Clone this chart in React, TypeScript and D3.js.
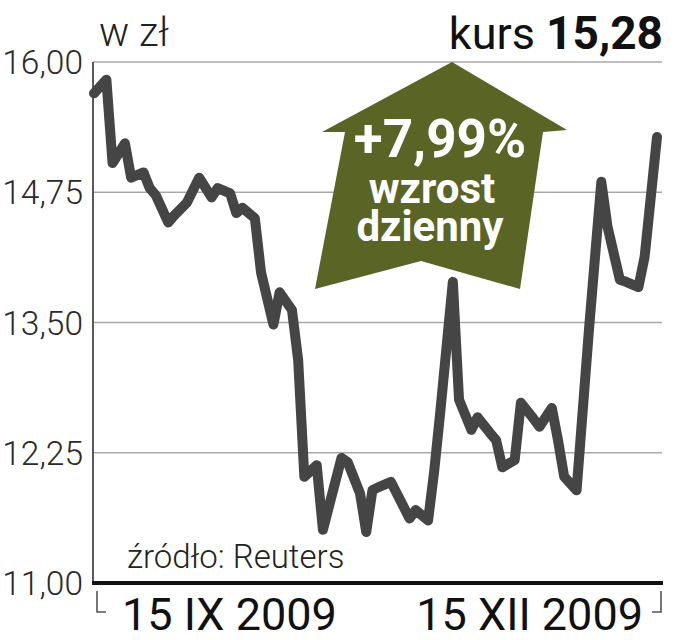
import React from "react";
import * as d3 from "d3";

// ---- data ----
const dates: string[] = [
  "2009-09-15","2009-09-17","2009-09-18","2009-09-20","2009-09-21","2009-09-23","2009-09-24","2009-09-25",
  "2009-09-27","2009-09-28","2009-09-30","2009-10-02","2009-10-04","2009-10-05","2009-10-07","2009-10-08",
  "2009-10-09","2009-10-11","2009-10-12","2009-10-14","2009-10-15","2009-10-17","2009-10-18","2009-10-19",
  "2009-10-21","2009-10-22","2009-10-25","2009-10-26","2009-10-28","2009-10-29","2009-10-30","2009-10-31",
  "2009-11-02","2009-11-05","2009-11-06","2009-11-08","2009-11-09","2009-11-10","2009-11-12","2009-11-13",
  "2009-11-15","2009-11-16","2009-11-18","2009-11-19","2009-11-20","2009-11-22","2009-11-23","2009-11-25",
  "2009-11-26","2009-11-28","2009-11-29","2009-11-30","2009-12-02","2009-12-04","2009-12-06","2009-12-07",
  "2009-12-09","2009-12-10","2009-12-12","2009-12-13","2009-12-15",
];
const prices: number[] = [
  15.70, 15.83, 15.03, 15.22, 14.89, 14.94, 14.79, 14.72,
  14.46, 14.53, 14.65, 14.89, 14.70, 14.79, 14.74, 14.55,
  14.60, 14.50, 13.98, 13.48, 13.79, 13.62, 13.14, 12.02,
  12.13, 11.51, 12.20, 12.16, 11.86, 11.49, 11.89, 11.92,
  11.97, 11.62, 11.70, 11.60, 12.08, 12.66, 13.89, 12.76,
  12.47, 12.59, 12.44, 12.37, 12.11, 12.18, 12.73, 12.58,
  12.50, 12.68, 12.37, 12.02, 11.89, 13.43, 14.85, 14.42,
  13.91, 13.89, 13.84, 14.13, 15.28,
];
const yTicks: number[] = [16, 14.75, 13.5, 12.25, 11];
const xLabels: string[] = ["15 IX 2009", "15 XII 2009"];
const unitLabel = "w zł";
const kursLabel = "kurs";
const kursValue = "15,28";
const changeLines: string[] = ["+7,99%", "wzrost", "dzienny"];
const sourceLabel = "źródło: Reuters";

const parse = d3.timeParse("%Y-%m-%d");

export default function App() {
  const W = 675, H = 640;
  const left = 93, right = 662, top = 62, bottom = 583;

  const x = d3.scaleTime()
    .domain([parse("2009-09-15")!, parse("2009-12-15")!])
    .range([94, 657]);
  const y = d3.scaleLinear().domain([11, 16]).range([bottom, top]);

  const pts = dates.map((d, i) => ({ d: parse(d)!, v: prices[i] }));
  const line = d3.line<{ d: Date; v: number }>()
    .x((p) => x(p.d))
    .y((p) => y(p.v));

  const fmt = (v: number) => d3.format(".2f")(v).replace(".", ",");

  // arrow annotation geometry (pixels)
  const arrow: [number, number][] = [
    [452, 62], [567, 130], [543, 132], [520, 289], [421, 261],
    [315, 289], [345, 132], [322, 132],
  ];
  const arrowPath = d3.line()(arrow)! + "Z";

  const font = "Roboto, 'Liberation Sans', sans-serif";

  return (
    <svg width={W} height={H} style={{ position: "absolute", left: 0, top: 0, background: "#fff" }}>
      {/* grid */}
      {yTicks.filter((t) => t !== 11).map((t) => (
        <line key={t} x1={left} x2={right} y1={y(t)} y2={y(t)} stroke="#a9a9a9" strokeWidth={1.6} />
      ))}
      {/* y axis line */}
      <line x1={left} x2={left} y1={top} y2={bottom} stroke="#5a5a5a" strokeWidth={2} />
      {/* tick labels */}
      {yTicks.map((t) => (
        <text key={t} x={83} y={y(t)} dy="0.36em" textAnchor="end" fontFamily={font} fontWeight={300}
          fontSize={33.5} fill="#2a2a2a">{fmt(t)}</text>
      ))}
      {/* unit */}
      <text x={99} y={46} fontFamily={font} fontWeight={300} fontSize={40} fill="#222">{unitLabel}</text>
      {/* kurs */}
      <text x={663} y={49} textAnchor="end" fontFamily={font} fill="#111">
        <tspan fontSize={45} fontWeight={400}>{kursLabel} </tspan>
        <tspan fontSize={46} fontWeight={700}>{kursValue}</tspan>
      </text>

      {/* arrow */}
      <path d={arrowPath} fill="#5a6425" />
      <text x={440} y={157} textAnchor="middle" fontFamily={font} fontWeight={700} fontSize={53} fill="#fff">
        {changeLines[0]}
      </text>
      <text x={432} y={203} textAnchor="middle" fontFamily={font} fontWeight={700} fontSize={42} fill="#fff">
        {changeLines[1]}
      </text>
      <text x={430} y={241} textAnchor="middle" fontFamily={font} fontWeight={700} fontSize={42} fill="#fff">
        {changeLines[2]}
      </text>

      {/* price line */}
      <path d={line(pts)!} fill="none" stroke="#454545" strokeWidth={10} strokeLinejoin="round" strokeLinecap="round" />

      {/* source */}
      <text x={127} y={568} fontFamily={font} fontWeight={300} fontSize={33} fill="#222">{sourceLabel}</text>

      {/* baseline */}
      <line x1={left - 1} x2={right + 1} y1={bottom} y2={bottom} stroke="#111" strokeWidth={4} />

      {/* bottom brackets */}
      <path d={`M${left + 4},591V612H${left + 13}`} fill="none" stroke="#555" strokeWidth={1.6} />
      <path d={`M${right - 1},591V612H${right - 10}`} fill="none" stroke="#555" strokeWidth={1.6} />
      <text x={122} y={630} fontFamily={font} fontSize={45} fill="#111">{xLabels[0]}</text>
      <text x={643} y={630} textAnchor="end" fontFamily={font} fontSize={45} fill="#111">{xLabels[1]}</text>
    </svg>
  );
}
